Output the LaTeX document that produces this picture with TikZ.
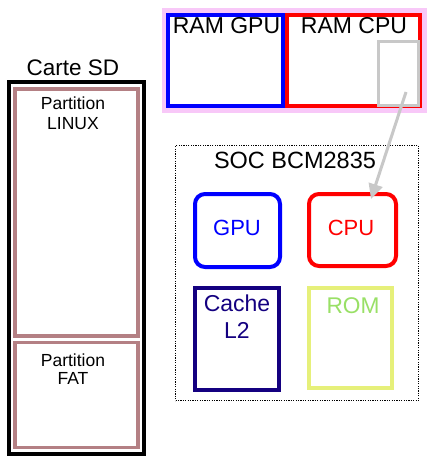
\documentclass[tikz,border=0pt]{standalone}
\usepackage{fontspec}
\setmainfont{Liberation Sans}
\usetikzlibrary{arrows.meta}
\definecolor{pinkband}{RGB}{248,200,248}
\definecolor{partbrown}{RGB}{180,128,132}
\definecolor{navy2}{RGB}{20,0,128}
\definecolor{romyellow}{RGB}{230,240,122}
\definecolor{romgreen}{RGB}{153,224,102}
\definecolor{grayarrow}{RGB}{200,200,200}
\tikzset{
  boxn/.style={draw, rectangle, inner sep=0pt, fill=white},
  thick4/.style={line width=4pt},
  bigtxt/.style={font=\fontsize{23}{26}\selectfont, inner sep=0pt, anchor=base},
  midtxt/.style={font=\fontsize{22}{26}\selectfont, inner sep=0pt, anchor=base},
  smalltxt/.style={font=\fontsize{17.5}{20}\selectfont, inner sep=0pt, anchor=base},
}
\begin{document}
\begin{tikzpicture}[x=1pt,y=-1pt]
\useasboundingbox[fill=white] (0,0) rectangle (434,463);
% Carte SD
\node[bigtxt, font=\fontsize{22.5}{26}\selectfont] (sdtitle) at (73,75) {Carte SD};
\node[boxn, thick4, draw=black, minimum width=135pt, minimum height=372pt] (sd) at (76.5,268) {};
\node[boxn, line width=3.5pt, draw=partbrown, minimum width=123pt, minimum height=247pt] (linux) at (76.5,212.5) {};
\node[boxn, line width=3.5pt, draw=partbrown, minimum width=123pt, minimum height=105pt] (fat) at (76.5,395) {};
\node[smalltxt] (t1) at (73,109) {Partition};
\node[smalltxt] (t2) at (73,129) {LINUX};
\node[smalltxt] (t3) at (73,366) {Partition};
\node[smalltxt] (t4) at (73,384) {FAT};
% RAM
\node[rectangle, fill=pinkband, minimum width=265pt, minimum height=105pt, inner sep=0pt] (ram) at (294.5,60.5) {};
\node[boxn, thick4, draw=blue, minimum width=115pt, minimum height=91pt] (ramgpu) at (225.5,60.5) {};
\node[boxn, thick4, draw=red, minimum width=133pt, minimum height=91pt] (ramcpu) at (353.5,60.5) {};
\node[bigtxt] (ramgputxt) at (226.5,33) {RAM GPU};
\node[bigtxt] (ramcputxt) at (354,33) {RAM CPU};
\node[draw=grayarrow, line width=3pt, rectangle, inner sep=0pt, minimum width=40pt, minimum height=64pt] (zone) at (398.5,73.5) {};
% SOC
\node[draw=black, line width=1.8pt, dash pattern=on 1.2pt off 1.2pt, rectangle, inner sep=0pt, minimum width=243pt, minimum height=255pt] (soc) at (297,273) {};
\node[bigtxt, font=\fontsize{23.5}{26}\selectfont] (soctxt) at (295,168) {SOC BCM2835};
\node[boxn, thick4, draw=blue, rounded corners=10pt, minimum width=85pt, minimum height=73pt] (gpu) at (237.5,230.5) {};
\node[midtxt, text=blue] (gputxt) at (237,235) {GPU};
\node[boxn, thick4, draw=red, rounded corners=10pt, minimum width=87pt, minimum height=72pt] (cpu) at (352.5,230) {};
\node[midtxt, text=red] (cputxt) at (351,235) {CPU};
\node[boxn, thick4, draw=navy2, minimum width=84pt, minimum height=102pt] (cache) at (237,339) {};
\node[bigtxt, text=navy2] (cachetxt) at (237,311) {Cache};
\node[bigtxt, text=navy2] (l2txt) at (237,338) {L2};
\node[boxn, thick4, draw=romyellow, minimum width=83pt, minimum height=100pt] (rom) at (350.5,338) {};
\node[bigtxt, font=\fontsize{22.7}{26}\selectfont, text=romgreen] (romtxt) at (353,313) {ROM};
% arrow
\coordinate (a1) at (406,92);
\coordinate (a2) at (371,199);
\draw[grayarrow, line width=3pt, -{Triangle[length=15pt,width=14pt]}] (a1) -- (a2);
\end{tikzpicture}
\end{document}
